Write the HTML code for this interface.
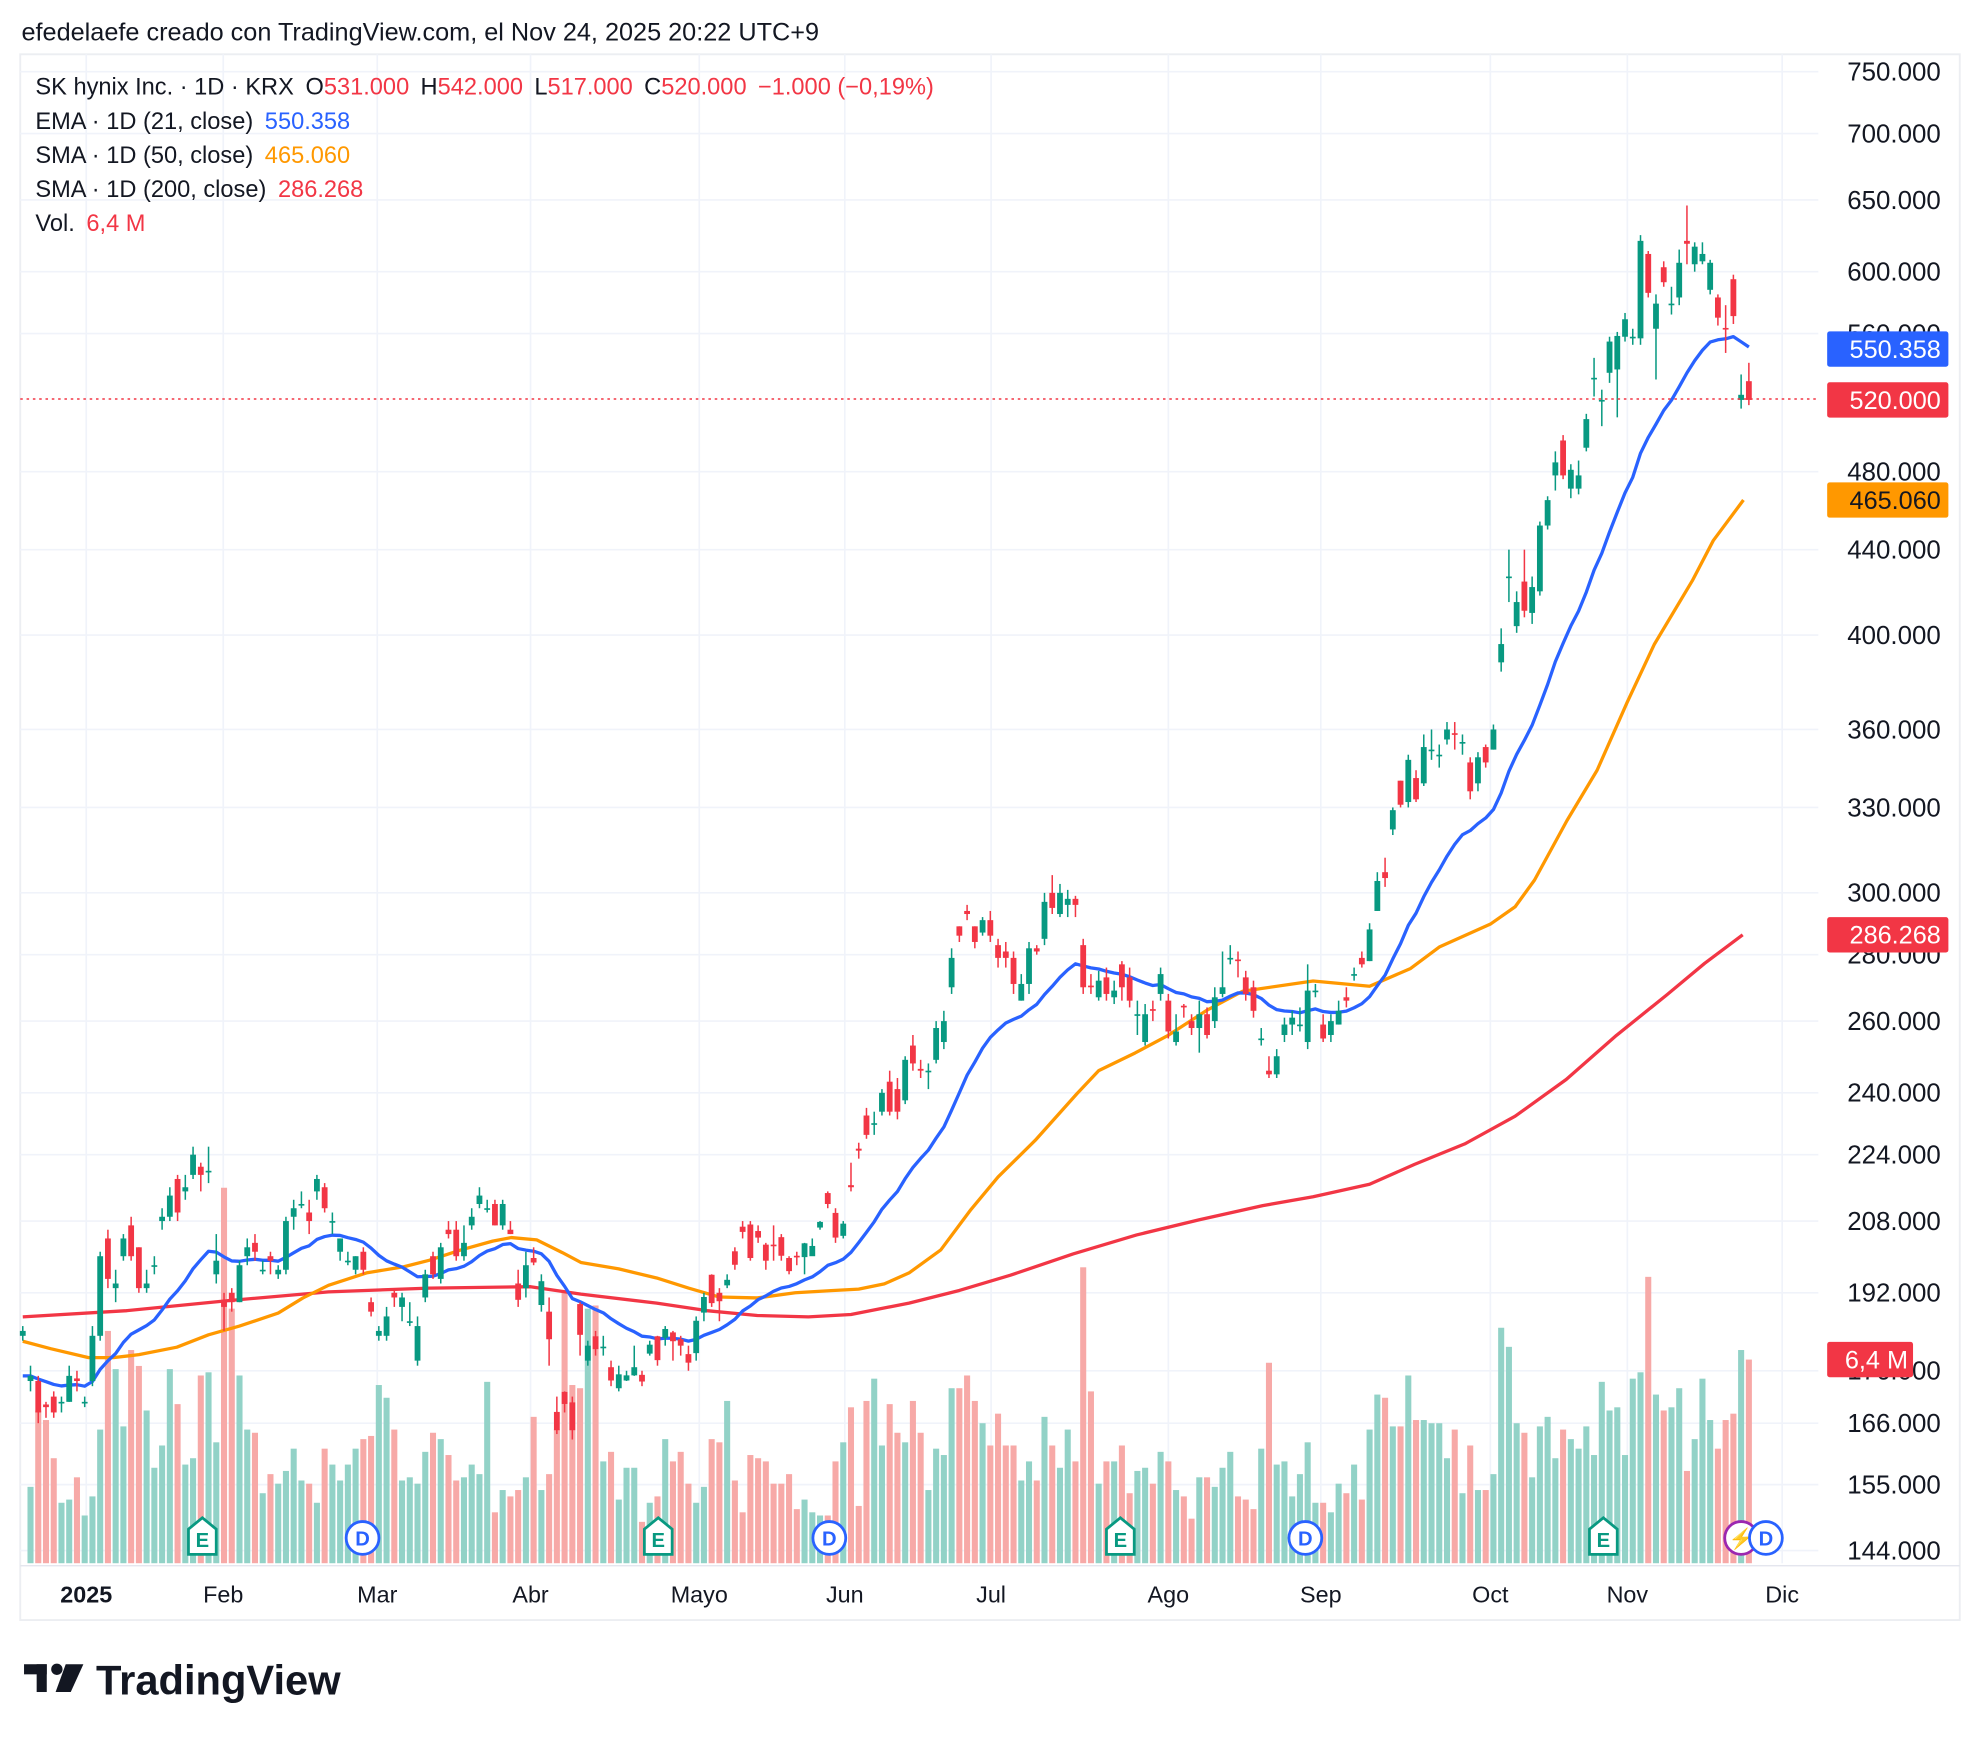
<!DOCTYPE html>
<html><head><meta charset="utf-8"><title>SK hynix chart</title>
<style>
html,body{margin:0;padding:0;background:#fff;}
svg{display:block;font-family:"Liberation Sans",Arial,sans-serif;}
</style></head>
<body>
<svg id="chart" width="1980" height="1740" viewBox="0 0 1568 1378" xmlns="http://www.w3.org/2000/svg">
<rect x="0" y="0" width="1568" height="1378" fill="#ffffff"/>
<text x="17" y="32" font-size="20" fill="#131722">efedelaefe creado con TradingView.com, el Nov 24, 2025 20:22 UTC+9</text>
<rect x="16" y="43" width="1536" height="1240" fill="none" stroke="#eceef2" stroke-width="1.5"/>
<g id="grid"></g>
<g id="vol"></g>
<g id="ma"></g>
<g id="candles"></g>
<line x1="16" y1="316" x2="1440" y2="316" stroke="#f23645" stroke-width="1.2" stroke-dasharray="2,3"/>
<g id="yaxis"></g>
<g id="xaxis"></g>
<g font-size="18.7" fill="#131722">
 <text x="28" y="75">SK hynix Inc. · 1D · KRX <tspan dx="4">O</tspan><tspan fill="#f23645">531.000</tspan><tspan dx="9">H</tspan><tspan fill="#f23645">542.000</tspan><tspan dx="9">L</tspan><tspan fill="#f23645">517.000</tspan><tspan dx="9">C</tspan><tspan fill="#f23645">520.000</tspan><tspan dx="9" fill="#f23645">−1.000 (−0,19%)</tspan></text>
 <text x="28" y="102">EMA · 1D (21, close) <tspan dx="4" fill="#2962ff">550.358</tspan></text>
 <text x="28" y="129">SMA · 1D (50, close) <tspan dx="4" fill="#ff9800">465.060</tspan></text>
 <text x="28" y="156">SMA · 1D (200, close) <tspan dx="4" fill="#f23645">286.268</tspan></text>
 <text x="28" y="183">Vol. <tspan dx="4" fill="#f23645">6,4 M</tspan></text>
</g>
<g id="events"></g>
<g id="badges"></g>
<g>
 <rect x="19" y="1318" width="18" height="8" fill="#131722"/>
 <rect x="29" y="1318" width="8" height="22" fill="#131722"/>
 <circle cx="45" cy="1322" r="4.5" fill="#131722"/>
 <polygon points="52,1318 66,1318 56,1340 44,1340" fill="#131722"/>
 <text x="76" y="1342" font-size="33" font-weight="bold" fill="#131722">TradingView</text>
</g>
</svg>
<script>
// ---------- DATA ----------
const opens = [183,174,174,169.5,171,170,170,174.5,170,174,183,204,193,200,207,202,193,198,208,209,218,215,219,221,220,196,190,192,190,200,203,197,200,196,197,209,212,210,215,216,208,201,199,197,201,190,183,183,192,189,186,178,191,200,195,206,206,200,207,212,211,212,207,206,
194,193,199.6,189.4,188,168.1,171.9,169.9,189.6,178,182.9,180.8,176.7,172.6,174.1,175.1,175.2,179.4,182.9,182.6,183.7,182.3,179.3,179.5,187.8,195.9,192,193.6,201.1,206.7,207.2,205.7,202.6,202.6,204.3,199.6,200.1,199.8,200,206.5,214.6,209.9,204.6,
216.5,225.5,234,232,235,243,241,238,253,246.5,246,249,254,270,289,294,289,287,291,283,281,279,266,271,282,285,300,293,296,298,283,270.5,267,273,267,277,273,262,254,263.5,268,266,254,264.5,260,258,262,260,268,279,278.5,273,270,255,246,245,256,259,259,254,269,259,256,259,267,274,279,278,294,307,
322,340,332,341,339,352,350,356,358.5,355,347,339,353,352,388,427,404,424.6,410,420,452,478,497,471,471,493,533,520,536,
538,558,558,557,612,563,603,579,583,621,605,607,588,583,563.5,595,520,531];
const closes = [184,175,168,169,168,170,175,174,170,183,200,195,194,204,200,193,194,198,209,214,210,216,224,219,220,199,189,190,198,202,201,197,199,197,208,211,212,208,218,211,208,204,199,200,197,188,184,187,191,191,186,185,196,196,202,205,200,203,209,214,211,207,212,205,
190.5,198,198.6,194.5,182.3,164.7,169.6,164.7,183.2,181,180.3,180.8,174.1,175.3,175.1,176.7,173.9,181.2,178.1,184.4,181.9,181,177.6,186.1,191.1,189.8,190.2,194.8,198.1,205.5,199.6,204.2,199,202.4,200.1,196.7,199.9,202.9,202.3,207.8,212,204.2,207.4,
216,225,229,232,240,235,235,249,248,246,246,258,260,279,286,293,284,291,286,279,279,271,271,282,281,297,295,300,298,296,270,270,272,268,269,270,266,262,262,263,274,257,257,264,258,262,256,267,270,279,278,268,263,255,245,250,259,261,259,269,269,255,260,263,266,274,277,288,304,305,
329,331,348,333,353,352,350,360,358,355,336,349,347,360,396,427,415,411,422,452,465,485,478,481,478,509,533,520,555,
558.5,569,558,621,586,579,593,579,606,619,617,612,606,570,563,571,523,520];
const highs = [185,177,175,170,172,171,177,176,171,185,201,206,197,205,209,202,197,200,211,216,219,219,226,222,226,205,192,193,199,204,205,199,201,198,209,213,215,213,219,217,210,204,201,200,202,191,185,189,193,192,190,187,197,201,203,208,208,207,211,216,213,213,213,208,
197,201,202,196,191,171,172,171,190,182,184,183,178,177,176,181,176,182,183,185,184,183,181,187,192,196,193,196,202,208,208,207,203,207,205,200,201,203,204,208,215,211,208,
222,227,236,235,241,246,244,250,256,249,248,260,263,282,289,296,289,292,294,285,284,281,274,284,283,300,306,303,301,299,285,274,275,276,272,278,276,266,265,266,276,268,262,265,262,266,264,270,281,283,281,275,272,258,250,252,261,263,264,277,271,262,262,266,270,276,281,290,307,312,
330,340,350,344,358,360,354,363,363,358,349,351,354,362,403,440,420,440,427,454,467,491,500,484,486,512,545,526,558,
561,573,563,625,614,585,607,590,615,646,620,620,608,585,578,598,535,542];
const lows = [182,172,166,167,167,168,170,172,169,173,182,193,190,199,199,192,192,196,206,208,208,213,218,215,217,194,184,188,190,198,199,196,196,195,196,206,211,205,213,210,205,199,198,196,196,187,182,182,189,186,185,177,190,195,194,204,199,199,206,211,210,207,206,205,
189,191,198,188,177,164,168,163,179,177,179,179,173,172,174,175,173,179,177,181,178,179,176,178,186,189,186,193,197,204,199,203,197,199,199,196,198,196,201,206,211,203,204,
215,223,228,229,234,234,233,237,246,244,241,248,252,268,284,291,282,286,284,276,276,268,266,268,280,283,293,292,292,292,268,268,266,266,265,266,264,256,253,260,266,255,253,261,256,251,255,258,267,277,273,266,261,253,244,244,254,256,257,252,267,254,254,259,264,272,276,278,294,302,
320,330,330,332,338,348,345,354,352,350,333,336,345,352,384,415,401,408,405,418,450,470,476,466,468,491,522,505,530,
510,555,553,553,583,532,590,572,578,605,600,605,585,565,548,566,515,517];
const volumes = [2.4,4.8,4.5,3.3,1.9,2.0,2.7,1.5,2.1,4.2,7.3,6.1,4.3,6.7,6.2,4.8,3.0,3.7,6.1,5.0,3.1,3.3,5.9,6.0,3.8,11.8,8.0,5.9,4.2,4.1,2.2,2.8,2.5,2.9,3.6,2.6,2.5,1.9,3.6,3.1,2.6,3.1,3.6,3.9,4.0,5.6,5.2,4.2,2.6,2.7,2.5,3.5,4.1,3.9,3.4,2.6,2.7,3.1,2.8,5.7,1.6,2.3,2.1,2.3,2.7,4.6,2.3,2.8,4.2,8.5,5.6,5.5,8.0,8.1,3.2,3.5,2.0,3.0,3.0,1.3,1.9,2.1,3.9,3.2,3.5,2.5,1.9,2.4,3.9,3.8,5.1,2.6,1.6,3.4,3.3,3.2,2.5,2.5,2.8,1.7,2.0,1.6,1.5,1.5,3.2,3.8,4.9,1.8,5.1,5.8,3.7,
5.0,4.1,3.8,5.1,4.1,2.3,3.6,3.4,5.5,5.5,5.9,5.1,4.4,3.7,4.7,3.7,3.7,2.6,3.2,2.6,4.6,3.7,3.0,4.2,3.2,9.3,5.4,2.5,3.2,3.2,3.7,2.2,2.9,3.0,2.5,3.5,3.2,2.3,2.1,1.4,2.7,2.7,2.4,3.0,3.5,2.1,2.0,1.7,3.6,6.3,3.1,3.2,2.1,2.8,3.8,1.9,1.9,1.6,2.5,2.2,3.1,2.0,4.2,5.3,5.2,4.3,4.3,5.9,4.5,4.5,4.4,4.4,3.3,4.2,2.2,3.7,2.3,2.3,2.8,7.4,6.8,4.4,4.1,2.7,4.3,4.6,3.3,4.2,3.9,3.6,4.3,3.4,5.7,4.8,4.9,3.4,5.8,6.0,9.0,5.3,4.8,4.9,5.5,2.9,3.9,5.8,4.5,3.6,4.5,4.7,6.7,6.4];
const sma50Bars = [0,3.6,8.5,11.7,15,19.9,24,28,33,36.2,39.5,44.4,49.3,52.5,56.6,60.7,63.1,66.4,69.7,72.1,77,81.9,86,90,94.9,99.8,104.7,108,111.3,114.5,118.6,122.5,126,130.8,136.2,139,143.7,148,153,157.6,166.7,174,179.3,183,189.6,192.8,195.3,199.5,203.4,207.3,210.8,215.7,218.4,222.3];
const sma50Vals = [181.9,180.4,178.6,178.6,179.2,180.7,183.2,185,187.7,190.9,193.6,196.3,197.7,199.1,201.4,203.4,204.2,203.7,200.8,198.6,197.2,195.2,193,191.1,190.9,192,192.5,192.8,193.9,196.3,201.4,210.7,218.5,227.6,239.8,246,250.9,255.9,263.2,268.8,271.9,270.3,275.7,282.4,289.7,295.4,304.3,325.2,344,371.2,396,425,444.5,465.06];
const sma200Bars = [0,13.4,26.4,39.5,52.5,65.6,72.1,81.9,88.4,94.9,101.5,107,114.5,121,127.6,135.7,143.9,152,160.2,166.7,174,179.8,186.3,192.8,199.4,205.9,212.4,217.3,222.2];
const sma200Vals = [186.9,188.2,190.3,192.2,193,193.3,191.7,189.8,188.2,187.2,186.9,187.4,189.8,192.5,195.8,200.5,204.8,208.3,211.6,213.7,216.7,221.6,226.7,233.8,243.6,255.9,267.7,277.3,286.27];
const emaSeed = 175;
const priceTicks = [750000,700000,650000,600000,560000,480000,440000,400000,360000,330000,300000,280000,260000,240000,224000,208000,192000,176000,166000,155000,144000];
const monthLabels = ["2025","Feb","Mar","Abr","Mayo","Jun","Jul","Ago","Sep","Oct","Nov","Dic"];
const monthBars = [8.2,25.9,45.8,65.6,87.4,106.2,125.1,148,167.7,189.6,207.3,227.3];
const eventTypes = ["E","D","E","D","E","D","E","C","D"];
const eventBars = [23.2,43.9,82.1,104.2,141.8,165.7,204.2,222,225.2];

// ---------- AXES ----------
const NS="http://www.w3.org/2000/svg";
const X0=18, DX=6.13, PLOT_R=1440, VOL_BASE=1238, VOL_PX_PER_M=25.2;
function xOf(i){return X0+DX*i;}
function yOf(p){return 1228-709.7*Math.log(p/144);}
function mk(tag,attrs,parent){const e=document.createElementNS(NS,tag);for(const k in attrs)e.setAttribute(k,attrs[k]);parent.appendChild(e);return e;}
function fmt(v){return v.toLocaleString('en-US').replace(/,/g,'.')+'';}

const grid=document.getElementById('grid');
const yaxis=document.getElementById('yaxis');
priceTicks.forEach(v=>{
  const y=yOf(v/1000);
  const l=mk('line',{x1:16,x2:PLOT_R,y1:y,y2:y,stroke:'#f0f3fa','stroke-width':1.3},grid);
  
  
  const t=mk('text',{x:1537,y:y+7,'text-anchor':'end','font-size':20.5,fill:'#131722'},yaxis);
  
  
  t.textContent=fmt(v);
});
const xaxis=document.getElementById('xaxis');
monthLabels.forEach((m,k)=>{
  const x=xOf(monthBars[k]);
  const l=mk('line',{x1:x,x2:x,y1:43,y2:1238,stroke:'#f0f3fa','stroke-width':1.3},grid);
  
  
  const t=mk('text',{x:x,y:1269,'text-anchor':'middle','font-size':18.5,fill:'#131722','font-weight':k===0?'bold':'normal'},xaxis);
  
  
  t.textContent=m;
});
mk('line',{x1:16,x2:1552,y1:1240,y2:1240,stroke:'#e0e3eb','stroke-width':1},xaxis);

// ---------- VOLUME ----------
const N=closes.length;
const volG=document.getElementById('vol');
const vOff=N-volumes.length;
volumes.forEach((v,k)=>{
  const i=k+vOff; if(i<0) return;
  const up=closes[i]>=opens[i];
  const h=v*VOL_PX_PER_M;
  const r=mk('rect',{x:xOf(i)-2.4,y:VOL_BASE-h,width:4.8,height:h,fill:up?'#92d2c7':'#f7a9a7'},volG);
  
  
});

// ---------- MOVING AVERAGES ----------
const maG=document.getElementById('ma');
function pathFrom(bars,vals){return bars.map((b,k)=>(k?'L':'M')+xOf(b).toFixed(1)+','+yOf(vals[k]).toFixed(1)).join(' ');}
const p200=mk('path',{d:pathFrom(sma200Bars,sma200Vals),fill:'none',stroke:'#f23645','stroke-width':2.6,'stroke-linejoin':'round'},maG);


const p50=mk('path',{d:pathFrom(sma50Bars,sma50Vals),fill:'none',stroke:'#ff9800','stroke-width':2.6,'stroke-linejoin':'round'},maG);


const emaVals=[];let e=emaSeed;const a=2/22;
closes.forEach((c,i)=>{e=i===0?emaSeed:e+a*(c-e);emaVals.push(e);});
const pe=mk('path',{d:pathFrom(closes.map((_,i)=>i),emaVals),fill:'none',stroke:'#2962ff','stroke-width':2.6,'stroke-linejoin':'round'},maG);



// ---------- CANDLES ----------
const cg=document.getElementById('candles');
for(let i=0;i<N;i++){
  const up=closes[i]>=opens[i];
  const col=up?'#089981':'#f23645';
  const g=mk('g',{},cg);
  
  
  const x=xOf(i);
  mk('line',{x1:x,x2:x,y1:yOf(highs[i]),y2:yOf(lows[i]),stroke:col,'stroke-width':1.2},g);
  const yt=yOf(Math.max(opens[i],closes[i])), yb=yOf(Math.min(opens[i],closes[i]));
  mk('rect',{x:x-2.3,y:yt,width:4.6,height:Math.max(1.3,yb-yt),fill:col},g);
}

// ---------- EVENTS ----------
const ev=document.getElementById('events');
eventTypes.forEach((t,k)=>{
  const x=xOf(eventBars[k]);const y=1218;
  const g=mk('g',{},ev);
  
  
  if(t==='E'){
    mk('path',{d:`M${x-11},${y+13} L${x-11},${y-7} L${x},${y-16} L${x+11},${y-7} L${x+11},${y+13} Z`,fill:'#fff',stroke:'#089981','stroke-width':2.2},g);
    const tx=mk('text',{x:x,y:y+7,'text-anchor':'middle','font-size':16,'font-weight':'bold',fill:'#089981'},g);tx.textContent='E';
  } else {
    const c=t==='D'?'#2962ff':'#9c27b0';
    mk('circle',{cx:x,cy:y,r:13,fill:'#fff',stroke:c,'stroke-width':2.2},g);
    const tx=mk('text',{x:x,y:y+6,'text-anchor':'middle','font-size':16,'font-weight':'bold',fill:c},g);tx.textContent=t==='D'?'D':'⚡';
  }
});

// ---------- BADGES ----------
const bg=document.getElementById('badges');
const lastClose=closes[N-1];
const lastVol=volumes[volumes.length-1];
const badges=[
  {name:'ema-badge',label:'550.358',fill:'#2962ff',tc:'#fff',y:yOf(550.358)},
  {name:'last-price-badge',label:'520.000',fill:'#f23645',tc:'#fff',y:yOf(lastClose)},
  {name:'sma50-badge',label:'465.060',fill:'#ff9800',tc:'#131722',y:yOf(sma50Vals[sma50Vals.length-1])},
  {name:'sma200-badge',label:'286.268',fill:'#f23645',tc:'#fff',y:yOf(sma200Vals[sma200Vals.length-1])},
  {name:'volume-badge',label:'6,4 M',fill:'#f23645',tc:'#fff',y:VOL_BASE-lastVol*VOL_PX_PER_M,w:68}
];
badges.forEach(b=>{
  const g=mk('g',{},bg);
  
  
  mk('rect',{x:1447,y:b.y-14,width:b.w||96,height:28,rx:2,fill:b.fill},g);
  const t=mk('text',{x:b.w?1511:1537,y:b.y+7,'text-anchor':'end','font-size':20,fill:b.tc},g);
  t.textContent=b.label;
});
</script>
</body></html>
